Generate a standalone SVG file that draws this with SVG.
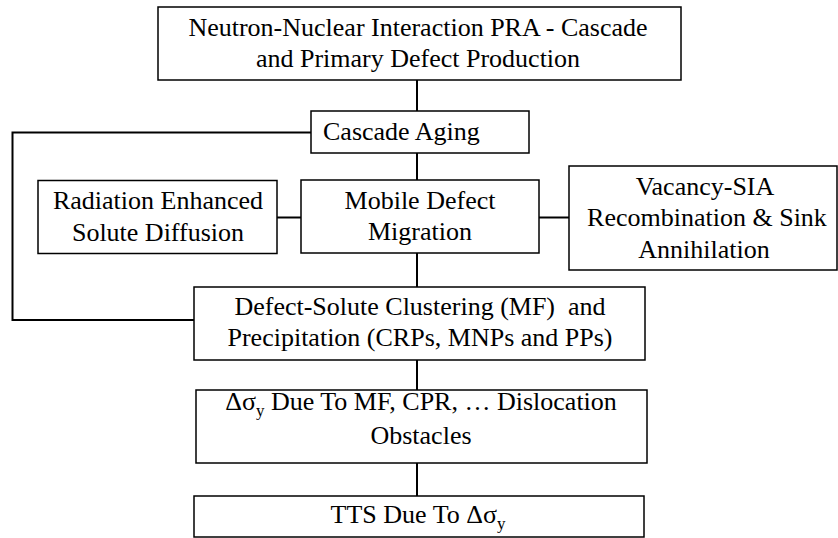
<svg xmlns="http://www.w3.org/2000/svg" width="838" height="538" viewBox="0 0 838 538">
<style>
  .box { fill: #fff; stroke: #000; stroke-width: 1.5; }
  .lbl { font-family: "Liberation Serif", "Times New Roman", serif; font-size: 26px; fill: #000; text-anchor: middle; }
  .conn { stroke: #000; stroke-width: 2; fill: none; }
  .sub { font-size: 17px; }
</style>
<rect width="838" height="538" fill="#fff"/>
<g id="connectors">
  <line class="conn" x1="417" y1="80" x2="417" y2="111"/>
  <line class="conn" x1="417" y1="153" x2="417" y2="180"/>
  <line class="conn" x1="417" y1="253" x2="417" y2="287"/>
  <line class="conn" x1="417" y1="360" x2="417" y2="390"/>
  <line class="conn" x1="417" y1="463" x2="417" y2="496"/>
  <line class="conn" x1="277" y1="217.5" x2="301" y2="217.5"/>
  <line class="conn" x1="539" y1="217.5" x2="569" y2="217.5"/>
  <polyline class="conn" points="311,132.5 12.5,132.5 12.5,320 194,320"/>
</g>
<g id="neutron">
  <rect class="box" x="158" y="7" width="523" height="73"/>
  <text class="lbl" x="418" y="36">Neutron-Nuclear Interaction PRA - Cascade</text>
  <text class="lbl" x="418" y="66.5">and Primary Defect Production</text>
</g>
<g id="cascade-aging">
  <rect class="box" x="311" y="111" width="218" height="42"/>
  <text class="lbl" x="323" y="140" style="text-anchor:start">Cascade Aging</text>
</g>
<g id="radiation">
  <rect class="box" x="38" y="180.5" width="239" height="73"/>
  <text class="lbl" x="158" y="209">Radiation Enhanced</text>
  <text class="lbl" x="158" y="240.5">Solute Diffusion</text>
</g>
<g id="mobile">
  <rect class="box" x="301" y="180" width="238" height="73"/>
  <text class="lbl" x="420" y="209">Mobile Defect</text>
  <text class="lbl" x="420" y="239.5">Migration</text>
</g>
<g id="vacancy">
  <rect class="box" x="569" y="166" width="268" height="104"/>
  <text class="lbl" x="705" y="194.5">Vacancy-SIA</text>
  <text class="lbl" x="707" y="226">Recombination &amp; Sink</text>
  <text class="lbl" x="704" y="257.5">Annihilation</text>
</g>
<g id="clustering">
  <rect class="box" x="194" y="287" width="451" height="73"/>
  <text class="lbl" x="420" y="315" style="white-space:pre">Defect-Solute Clustering (MF)  and</text>
  <text class="lbl" x="420" y="345.5">Precipitation (CRPs, MNPs and PPs)</text>
</g>
<g id="delta-sigma">
  <rect class="box" x="196" y="390" width="451" height="73"/>
  <text class="lbl" x="421" y="410">Δσ<tspan class="sub" dy="6">y</tspan><tspan dy="-6"> Due To MF, CPR, … Dislocation</tspan></text>
  <text class="lbl" x="421" y="444">Obstacles</text>
</g>
<g id="tts">
  <rect class="box" x="194" y="496" width="450" height="41"/>
  <text class="lbl" x="418" y="523">TTS Due To Δσ<tspan class="sub" dy="6">y</tspan></text>
</g>
</svg>
